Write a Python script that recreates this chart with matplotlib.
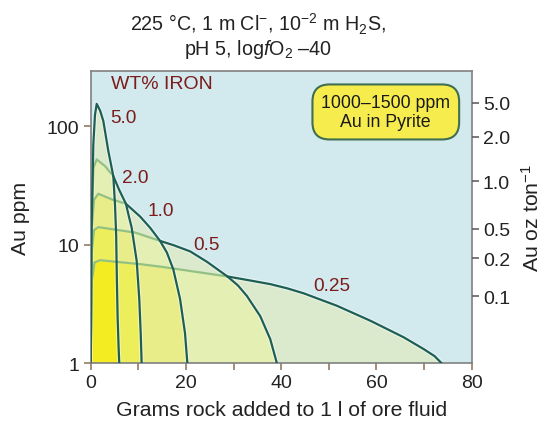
import numpy as np
import matplotlib
matplotlib.use("Agg")
import matplotlib.pyplot as plt
from matplotlib.path import Path
from matplotlib.colors import ListedColormap
from matplotlib.patches import FancyBboxPatch

plt.rcParams["font.family"] = ["Liberation Sans", "DejaVu Sans"]
plt.rcParams["mathtext.fontset"] = "custom"
plt.rcParams["mathtext.rm"] = "Liberation Sans"
plt.rcParams["mathtext.it"] = "Liberation Sans:italic"

# --- data (x: grams rock, y: Au ppm) ---
iron_labels = ["5.0", "2.0", "1.0", "0.5", "0.25"]

fe50_x = [0, 0.2, 0.55, 0.9, 1.26, 2.0, 2.65, 3.7, 4.75, 5.1, 5.35, 5.5, 5.65, 5.85, 6.0]
fe50_y = [1, 14, 70, 125, 155, 135, 111, 62, 38, 22, 12, 5, 2.5, 1.4, 1]

fe20_x = [0, 0.25, 0.6, 1.26, 3.0, 4.75, 6.0, 7.4, 8.0, 8.6, 9.66, 10.2, 10.5, 10.7]
fe20_y = [1, 20, 45, 52.6, 46.2, 38, 29, 22.2, 17.5, 14, 7.3, 3.5, 1.8, 1]

fe10_x = [0, 0.25, 0.7, 1.6, 4.4, 7.4, 10.4, 12.5, 14.56, 16.0, 17.35, 18.76, 19.8, 20.3]
fe10_y = [1, 14, 24, 27, 24.2, 22.2, 17.3, 13.9, 10.8, 8.6, 6.2, 3.5, 1.8, 1]

fe05_x = [0, 0.25, 0.7, 1.6, 9.3, 14.56, 17.5, 20.9, 24.4, 28.7, 30.9, 32.8, 35.6, 37.7, 39.1]
fe05_y = [1, 9, 13.3, 14.1, 12.7, 10.8, 9.9, 8.8, 7.2, 5.41, 4.55, 3.7, 2.5, 1.6, 1]

fe025_x = [0, 0.25, 0.8, 1.95, 10.4, 14.6, 28.7, 33.5, 37.7, 41.2, 44.7, 51.7,
           58.7, 65.7, 69.9, 72.2, 73.7]
fe025_y = [1, 5, 7.1, 7.42, 6.87, 6.55, 5.41, 5.0, 4.66, 4.3, 3.9, 3.06,
           2.29, 1.66, 1.32, 1.15, 1]

# index where each curve becomes part of the dark envelope
dark_from = [0, 5, 5, 5, 6]

# right axis: oz/ton ticks as they sit on the ppm scale in the original
oz_labels = ["5.0", "2.0", "1.0", "0.5", "0.2", "0.1"]
oz_at_ppm = [158, 82, 34.5, 13.7, 7.7, 3.67]

x_major = [0, 20, 40, 60, 80]
x_minor = [10, 30, 50, 70]
y_ticks = [1, 10, 100]

curves = [(fe50_x, fe50_y), (fe20_x, fe20_y), (fe10_x, fe10_y),
          (fe05_x, fe05_y), (fe025_x, fe025_y)]

label_pos = [(6.9, 118), (9.3, 36.9), (14.7, 19.6), (24.3, 10.0), (50.7, 4.58)]

YTOP = 295
BG = "#d2eaed"
layer_colors = [BG, "#dbeacd", "#e4efb4", "#e8ed8a", "#edee5c", "#f3ec22"]
DARK = "#1e5f55"
LIGHT = "#93c184"
RED = "#7b1b1b"
TICK_BROWN = "#8c6d55"

fig = plt.figure(figsize=(5.48, 4.27), dpi=100)
ax = fig.add_axes([0.1655, 0.1468, 0.6953, 0.6853])
ax.set_yscale("log")
ax.set_xlim(0, 80)
ax.set_ylim(1, YTOP)

# shading: count how many iron fields cover each point
xs = np.linspace(0, 80, 961)
ys = np.logspace(0, np.log10(YTOP), 601)
xc = 0.5 * (xs[:-1] + xs[1:])
lyc = 0.5 * (np.log10(ys[:-1]) + np.log10(ys[1:]))
XX, YY = np.meshgrid(xc, lyc)
pts = np.column_stack([XX.ravel(), YY.ravel()])
count = np.zeros(len(pts))
for cx, cy in curves:
    poly = np.column_stack([cx, np.log10(cy)])
    count += Path(poly).contains_points(pts)
count = count.reshape(XX.shape)
ax.pcolormesh(xs, ys, count, cmap=ListedColormap(layer_colors),
              vmin=-0.5, vmax=5.5, shading="flat", antialiased=False,
              rasterized=True, zorder=0)

for (cx, cy), s in zip(curves, dark_from):
    if s > 0:
        ax.plot(cx[:s + 1], cy[:s + 1], color=LIGHT, lw=1.6, zorder=2,
                solid_capstyle="round")
    ax.plot(cx[s:], cy[s:], color="white", lw=3.2, alpha=0.45, zorder=2)
    ax.plot(cx[s:], cy[s:], color=DARK, lw=1.6, zorder=3,
            solid_joinstyle="round")

for lab, (lx, ly) in zip(iron_labels, label_pos):
    ax.text(lx, ly, lab, color=RED, fontsize=13.7, ha="center", va="center",
            zorder=4)
ax.text(0.052, 0.957, "WT% IRON", transform=ax.transAxes, color=RED,
        fontsize=14, ha="left", va="center")

box = FancyBboxPatch((0.582, 0.765), 0.385, 0.188, transform=ax.transAxes,
                     boxstyle="round,pad=0,rounding_size=0.045",
                     mutation_aspect=381 / 293, fc="#f7ec4e", ec="#3f6e50",
                     lw=1.5, zorder=5)
ax.add_patch(box)
ax.text(0.7745, 0.859, "1000\u20131500 ppm\nAu in Pyrite", transform=ax.transAxes,
        ha="center", va="center", fontsize=12.8, linespacing=1.15, zorder=6,
        color="#1a1a1a")

ax.set_xticks(x_major)
ax.set_xticks(x_minor, minor=True)
ax.set_yticks(y_ticks)
ax.set_yticklabels([str(v) for v in y_ticks])
ax.yaxis.set_minor_locator(matplotlib.ticker.NullLocator())
ax.tick_params(which="both", direction="out", length=5, width=1.1,
               color=TICK_BROWN, labelsize=14, labelcolor="#222222", pad=3)
for sp in ax.spines.values():
    sp.set_color("#808080")
    sp.set_linewidth(1.2)

ax.set_xlabel("Grams rock added to 1 l of ore fluid", fontsize=15.3,
              color="#222222", labelpad=6)
ax.set_ylabel("Au ppm", fontsize=15.3, color="#222222", labelpad=12)

ax2 = ax.twinx()
ax2.set_yscale("log")
ax2.set_ylim(1, YTOP)
ax2.set_yticks(oz_at_ppm)
ax2.set_yticklabels(oz_labels)
ax2.yaxis.set_minor_locator(matplotlib.ticker.NullLocator())
ax2.tick_params(direction="out", length=5, width=1.1, color="#555555",
                labelsize=14, labelcolor="#222222", pad=3)
for sp in ax2.spines.values():
    sp.set_visible(False)
ax2.set_ylabel("Au oz ton$^{-1}$", fontsize=15.3, color="#222222",
               rotation=90, labelpad=8)

fig.text(0.47, 0.944, "225 °C, 1 m Cl$^{-}$, 10$^{-2}$ m H$_2$S,",
         ha="center", va="center", fontsize=14.2, color="#222222")
fig.text(0.47, 0.884, "pH 5, log$\\mathit{f}$O$_2$ \u201340",
         ha="center", va="center", fontsize=14.2, color="#222222")

fig.savefig("out.png", dpi=100)
